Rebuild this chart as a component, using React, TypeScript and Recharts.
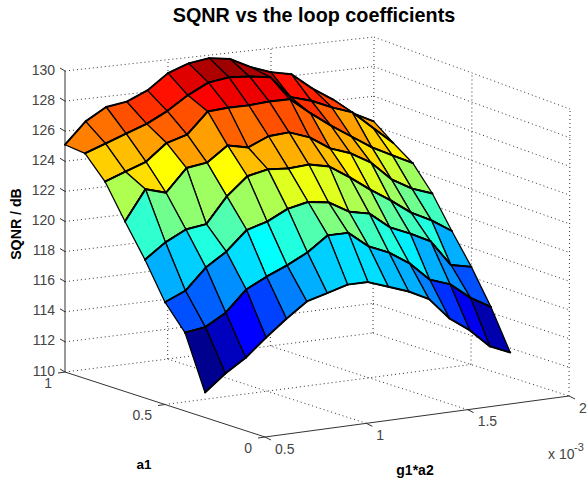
import React from 'react';
import { ComposedChart, Scatter, XAxis, YAxis, ReferenceLine } from 'recharts';

// ---- values ----
const gTicks = [0.5, 1, 1.5, 2]; // x 10^-3
const aTicks = [0, 0.5, 1];
const zTicks = [110, 112, 114, 116, 118, 120, 122, 124, 126, 128, 130];
const gValues = [0.5, 0.6, 0.7, 0.8, 0.9, 1.0, 1.1, 1.2, 1.3, 1.4, 1.5, 1.6, 1.7, 1.8, 1.9, 2.0];
const aValues = [1.0, 0.9, 0.8, 0.7, 0.6, 0.5, 0.4, 0.3];
const sqnrA10 = [125.1, 126.5, 127.3, 127.5, 128.1, 129.1, 129.6, 129.8, 129.6, 128.9, 128.4, 128.1, 127.0, 126.1, 125.0, 124.3];
const sqnrA09 = [125.0, 125.5, 126.0, 126.5, 127.2, 128.1, 128.8, 129.0, 128.9, 128.7, 127.2, 126.8, 126.2, 125.7, 124.5, 123.3];
const sqnrA08 = [123.6, 124.1, 124.6, 125.7, 126.1, 127.5, 127.6, 127.6, 127.7, 127.7, 126.6, 125.6, 124.7, 123.8, 123.1, 122.4];
const sqnrA07 = [121.4, 123.4, 123.0, 124.5, 124.7, 125.7, 125.4, 126.0, 126.1, 125.6, 124.7, 124.2, 123.4, 122.1, 121.3, 120.8];
const sqnrA06 = [119.3, 120.3, 121.0, 121.2, 122.9, 124.1, 124.4, 124.3, 124.4, 124.1, 123.2, 122.2, 121.3, 120.3, 119.6, 118.7];
const sqnrA05 = [116.9, 117.5, 118.9, 119.8, 121.1, 121.5, 122.2, 122.5, 122.3, 121.5, 121.2, 120.1, 119.5, 118.8, 117.0, 116.7];
const sqnrA04 = [115.3, 115.5, 116.3, 117.7, 118.4, 119.0, 119.7, 120.7, 120.7, 119.6, 119.0, 118.1, 116.8, 116.3, 115.2, 114.4];
const sqnrA03 = [111.7, 112.8, 113.7, 114.9, 116.0, 117.0, 117.4, 117.8, 117.8, 117.3, 116.8, 116.1, 114.6, 113.6, 112.3, 111.7];
const zRows = [sqnrA10, sqnrA09, sqnrA08, sqnrA07, sqnrA06, sqnrA05, sqnrA04, sqnrA03];

const title = 'SQNR vs the loop coefficients';
const zTitle = 'SQNR / dB';
const aTitle = 'a1';
const gTitle = 'g1*a2';

// ---- camera: the box corners on the picture plane ----
const W = 587;
const H = 482;
type P = { x: number; y: number };
const floorL: P = { x: 65, y: 372 };
const floorF: P = { x: 265, y: 437 };
const floorR: P = { x: 569, y: 396 };
const floorB: P = { x: 373, y: 333 };
const topL: P = { x: 65, y: 71 };
const topF: P = { x: 265, y: 145 };
const topR: P = { x: 570, y: 109 };
const topB: P = { x: 374, y: 37 };

const bi = (l: number, f: number, r: number, b: number, s: number, t: number) =>
  l * (1 - s) * (1 - t) + f * (1 - s) * t + r * s * t + b * s * (1 - t);

const project = (g: number, a: number, z: number): P => {
  const s = (g - 0.5) / 1.5;
  const t = 1 - a;
  const u = (z - 110) / 20;
  const fx = bi(floorL.x, floorF.x, floorR.x, floorB.x, s, t);
  const fy = bi(floorL.y, floorF.y, floorR.y, floorB.y, s, t);
  const tx = bi(topL.x, topF.x, topR.x, topB.x, s, t);
  const ty = bi(topL.y, topF.y, topR.y, topB.y, s, t);
  return { x: fx + (tx - fx) * u, y: fy + (ty - fy) * u };
};

const zMin = 111.7;
const zMax = 129.8;
const jet = (v: number) => {
  const idx = Math.min(63, Math.max(0, Math.floor(v * 64)));
  const q = (idx + 1) / 64;
  const ch = (c: number) => Math.round(255 * Math.max(0, Math.min(1, c)));
  const r = 1.5 - Math.abs(4 * q - 3);
  const g = 1.5 - Math.abs(4 * q - 2);
  const b = 1.5 - Math.abs(4 * q - 1);
  return `rgb(${ch(r)},${ch(g)},${ch(b)})`;
};

// back-to-front so nearer faces hide farther ones
const faces: any[] = [];
for (let j = 0; j < aValues.length - 1; j++) {
  for (let i = gValues.length - 2; i >= 0; i--) {
    const c = [
      project(gValues[i], aValues[j], zRows[j][i]),
      project(gValues[i + 1], aValues[j], zRows[j][i + 1]),
      project(gValues[i + 1], aValues[j + 1], zRows[j + 1][i + 1]),
      project(gValues[i], aValues[j + 1], zRows[j + 1][i]),
    ];
    faces.push({
      x: c[0].x,
      y: c[0].y,
      rel: c.map((p) => ({ x: p.x - c[0].x, y: p.y - c[0].y })),
      fill: jet((zRows[j + 1][i] - zMin) / (zMax - zMin)),
    });
  }
}

const FaceShape = (props: any) => {
  const { cx, cy, payload } = props;
  const pts = payload.rel.map((p: P) => ({ x: cx + p.x, y: cy + p.y }));
  const d = pts.map((p: P) => `${p.x},${p.y}`).join(' ');
  return (
    <g>
      <polygon points={d} fill={payload.fill} stroke="#000" strokeWidth={1.3} strokeLinejoin="round" />
      <line x1={pts[0].x} y1={pts[0].y} x2={pts[1].x} y2={pts[1].y} stroke="#000" strokeWidth={1.9} strokeLinecap="round" />
      <line x1={pts[3].x} y1={pts[3].y} x2={pts[2].x} y2={pts[2].y} stroke="#000" strokeWidth={1.9} strokeLinecap="round" />
    </g>
  );
};

// ---- grid lines and axes ----
type Seg = [P, P];
const wallLines: Seg[] = [];
zTicks.forEach((z) => {
  wallLines.push([project(0.5, 1, z), project(2, 1, z)]);
  wallLines.push([project(2, 1, z), project(2, 0, z)]);
});
gTicks.forEach((g) => {
  if (g > 0.5) wallLines.push([project(g, 1, 110), project(g, 1, 130)]);
  if (g > 0.5 && g < 2) wallLines.push([project(g, 0, 110), project(g, 1, 110)]);
});
aTicks.forEach((a) => {
  if (a < 1) wallLines.push([project(2, a, 110), project(2, a, 130)]);
  if (a === 0.5) wallLines.push([project(0.5, a, 110), project(2, a, 110)]);
});

const axisLines: Seg[] = [
  [project(0.5, 1, 110), project(0.5, 1, 130)],
  [project(0.5, 1, 110), project(0.5, 0, 110)],
  [project(0.5, 0, 110), project(2, 0, 110)],
];
const shift = (p: P, dx: number, dy: number): P => ({ x: p.x + dx, y: p.y + dy });
zTicks.forEach((z) => {
  const p = project(0.5, 1, z);
  axisLines.push([p, shift(p, -5, -3)]);
});
gTicks.forEach((g) => {
  const p = project(g, 0, 110);
  axisLines.push([p, shift(p, 6, 3)]);
});
aTicks.forEach((a) => {
  const p = project(0.5, a, 110);
  axisLines.push([p, shift(p, -7, 1)]);
});

// ---- text ----
const tickColor = '#444';
const texts: any[] = [
  ...zTicks.map((z) => {
    const p = project(0.5, 1, z);
    return { x: p.x - 10, y: p.y - 1.5, text: String(z), anchor: 'end', size: 14, color: tickColor };
  }),
  ...gTicks.map((g) => {
    const p = project(g, 0, 110);
    return { x: p.x + 10, y: p.y + 11.5, text: String(g), anchor: 'start', size: 14, color: tickColor };
  }),
  ...aTicks.map((a) => {
    const p = project(0.5, a, 110);
    return { x: p.x - 13, y: p.y + 10.5, text: String(a), anchor: 'end', size: 14, color: tickColor };
  }),
  { x: 548, y: 454, text: 'x 10', anchor: 'start', size: 14, color: tickColor },
  { x: 574, y: 447, text: '-3', anchor: 'start', size: 11, color: tickColor },
  { x: 144, y: 464, text: aTitle, anchor: 'middle', size: 13.5, bold: true, color: '#000' },
  { x: 415, y: 470, text: gTitle, anchor: 'middle', size: 14, bold: true, color: '#000' },
  { x: 15.5, y: 224, text: zTitle, anchor: 'middle', size: 14.2, bold: true, color: '#000', rotate: -90 },
  { x: 314, y: 15, text: title, anchor: 'middle', size: 19.8, bold: true, color: '#000' },
];

const TextShape = (props: any) => {
  const { cx, cy, payload } = props;
  return (
    <text
      x={cx}
      y={cy}
      textAnchor={payload.anchor}
      dominantBaseline="central"
      fontFamily="'Liberation Sans', Arial, sans-serif"
      fontSize={payload.size}
      fontWeight={payload.bold ? 700 : 400}
      fill={payload.color}
      transform={payload.rotate ? `rotate(${payload.rotate} ${cx} ${cy})` : undefined}
    >
      {payload.text}
    </text>
  );
};

export default function App() {
  return (
    <div style={{ position: 'absolute', left: 0, top: 0, width: W, height: H, background: '#fff' }}>
      <ComposedChart width={W} height={H} margin={{ top: 0, right: 0, bottom: 0, left: 0 }} data={faces}>
        <XAxis type="number" dataKey="x" domain={[0, W]} hide allowDataOverflow />
        <YAxis type="number" dataKey="y" domain={[0, H]} reversed hide allowDataOverflow />
        {wallLines.map((s, i) => (
          <ReferenceLine
            key={`w${i}`}
            segment={[s[0], s[1]]}
            stroke="#333"
            strokeWidth={1}
            strokeDasharray="1 3"
            ifOverflow="visible"
          />
        ))}
        {axisLines.map((s, i) => (
          <ReferenceLine
            key={`a${i}`}
            segment={[s[0], s[1]]}
            stroke="#333"
            strokeWidth={1}
            ifOverflow="visible"
          />
        ))}
        <Scatter data={faces} dataKey="y" shape={FaceShape} isAnimationActive={false} />
        <Scatter data={texts} dataKey="y" shape={TextShape} isAnimationActive={false} />
      </ComposedChart>
    </div>
  );
}
